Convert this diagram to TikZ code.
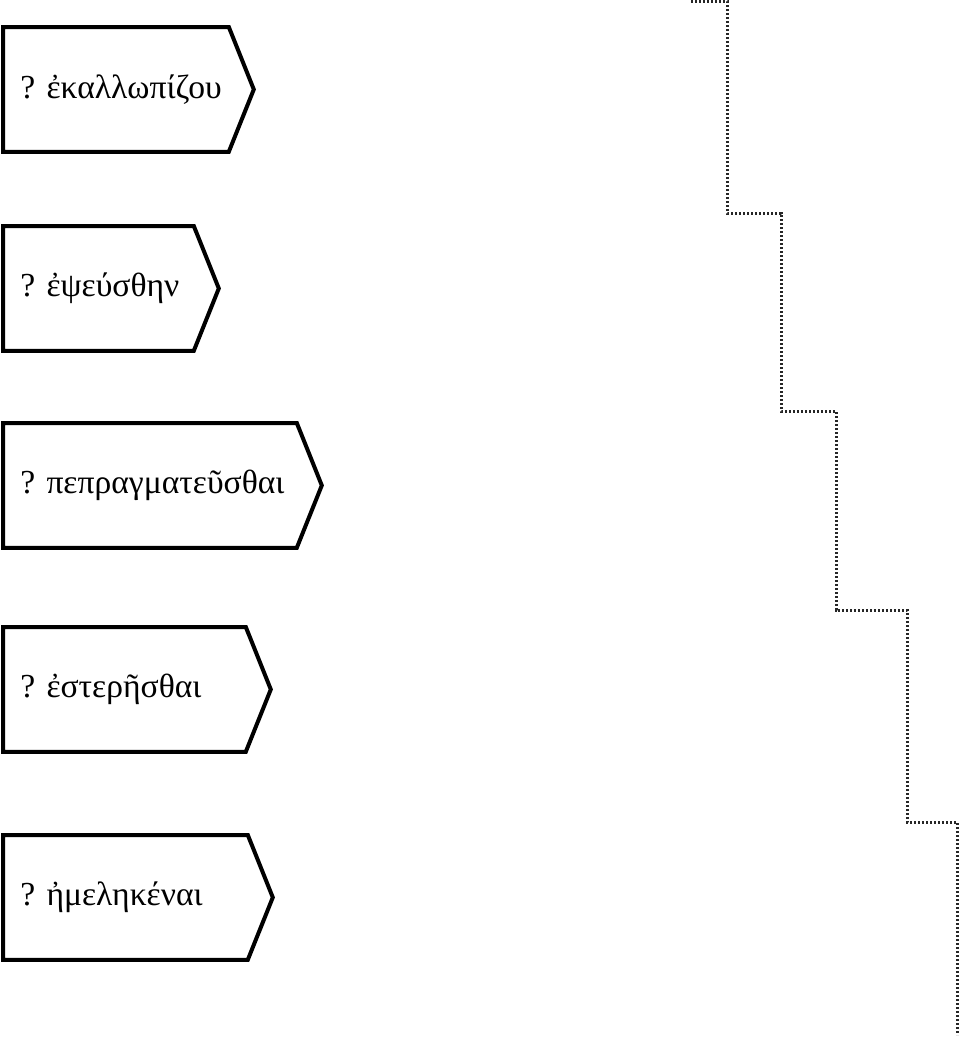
\documentclass[tikz,border=0pt]{standalone}
\usepackage{fontspec}
\setmainfont{Liberation Serif}
\usepackage{tikz}
\usetikzlibrary{positioning}

\begin{document}
\begin{tikzpicture}[
        x=0.5pt,y=-0.5pt,
        every node/.style={font=\fontsize{16.8}{20}\selectfont},
        word/.style={anchor=north west,align=left,inner xsep=8.5pt,inner ysep=0pt,minimum height=62pt},
        tag/.style={draw=black,line width=2pt,line join=miter},
        stairs/.style={draw=black!85,line width=1.5pt,dash pattern=on 1.2pt off 0.8pt}
      ]
      \useasboundingbox (0,0) rectangle (960,1039);

      \node[word,text width=95.5pt] (w1) at (3,27) {?~ἐκαλλωπίζου};
      \node[word,text width=78pt] (w2) at (3,226) {?~ἐψεύσθην};
      \node[word,text width=129.5pt] (w3) at (3,423) {?~πεπραγματεῦσθαι};
      \node[word,text width=104pt] (w4) at (3,627) {?~ἐστερῆσθαι};
      \node[word,text width=105pt] (w5) at (3,835) {?~ἠμεληκέναι};

      \foreach \w in {w1,w2,w3,w4,w5}
        \draw[tag] (\w.north west) -- (\w.north east) -- ([xshift=12.5pt]\w.east) -- (\w.south east) -- (\w.south west) -- cycle;

      % staircase
      \draw[stairs] (691,1) -- (727,1) -- (727,213) -- (781,213) -- (781,411) -- (836,411)
        -- (836,610) -- (907,610) -- (907,822) -- (957,822) -- (957,1035);
    \end{tikzpicture}
\end{document}
